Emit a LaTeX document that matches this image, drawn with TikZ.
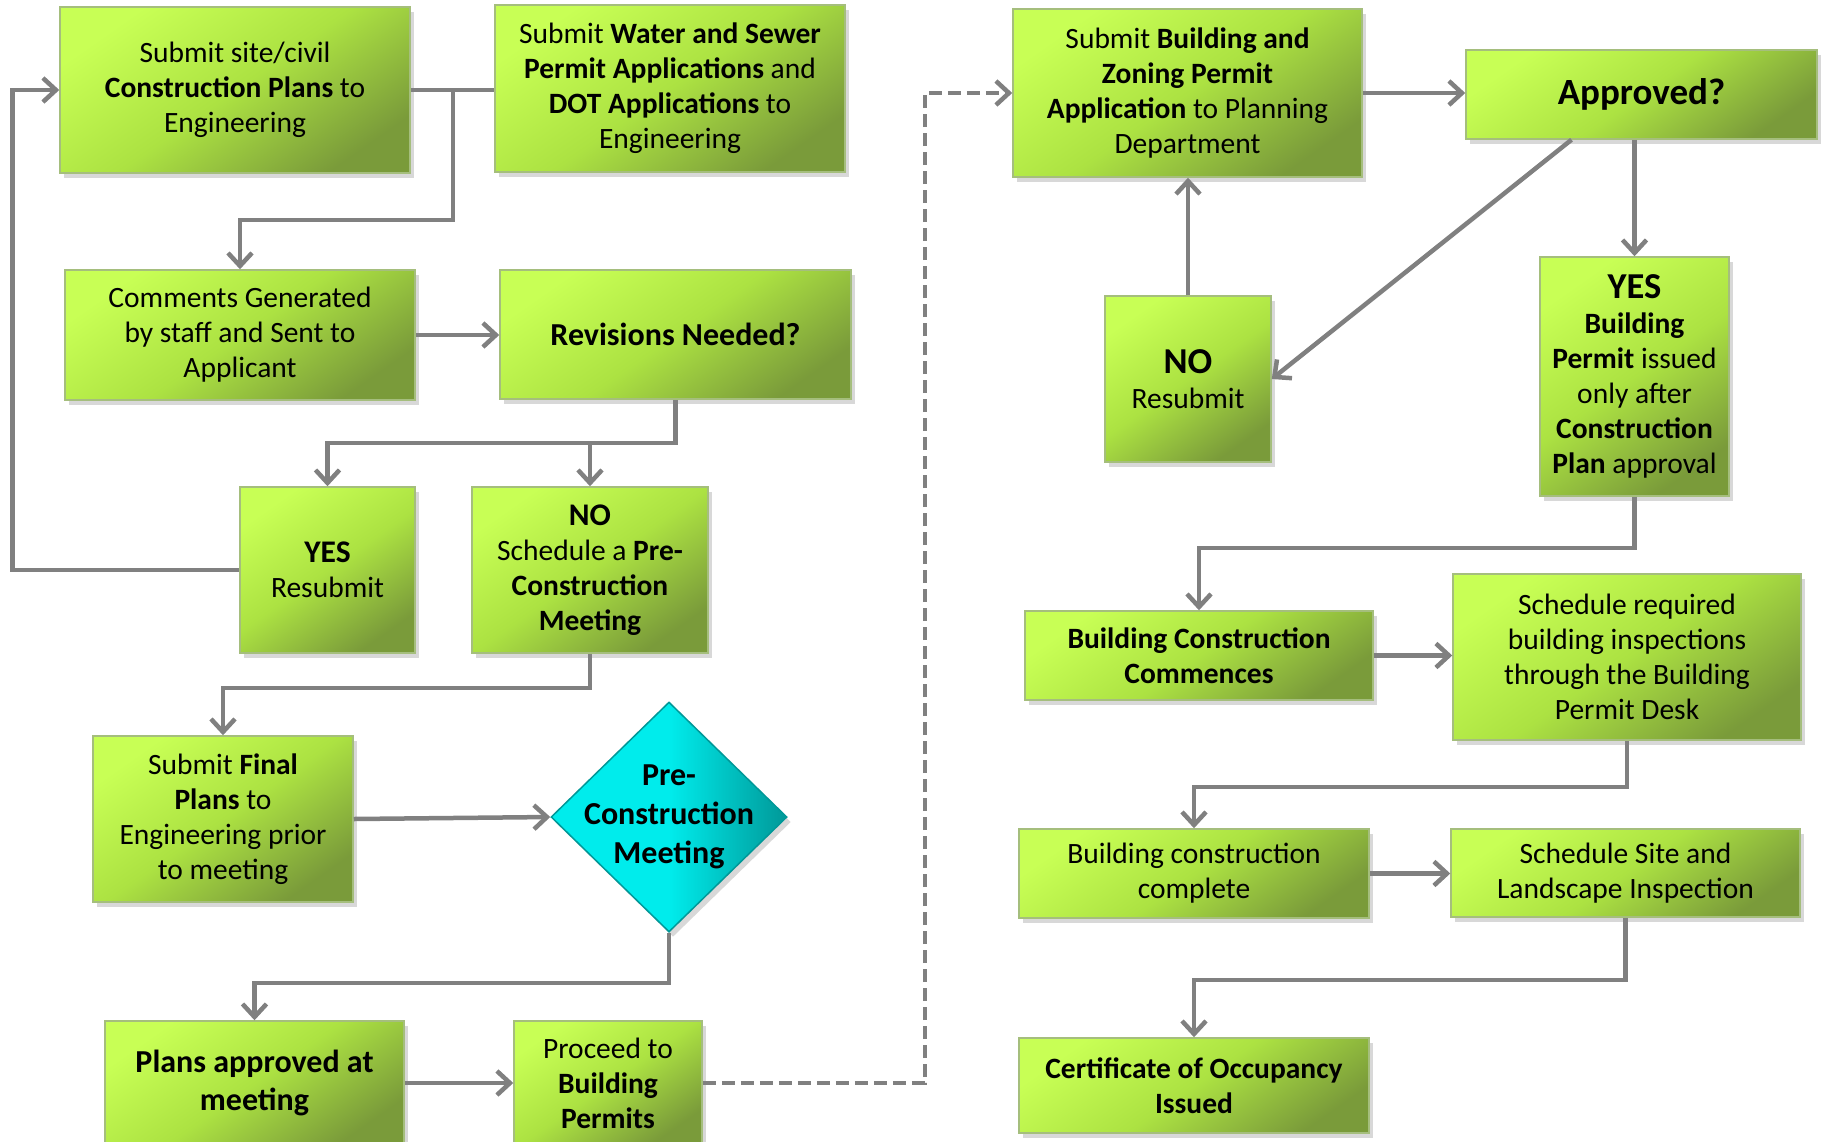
\documentclass[tikz,border=0pt]{standalone}
\usepackage{fontspec}
\setmainfont{Carlito}
\usetikzlibrary{arrows.meta,shapes.geometric,shadows,calc}

\definecolor{boxlight}{RGB}{200,255,85}
\definecolor{boxmid}{RGB}{172,226,66}
\definecolor{boxdark}{RGB}{122,155,58}
\definecolor{boxedge}{RGB}{165,190,125}
\definecolor{teallight}{RGB}{0,236,236}
\definecolor{tealdark}{RGB}{0,152,152}
\definecolor{linegray}{RGB}{128,128,128}

\tikzset{
  stepbox/.style={draw=boxedge, line width=1.5pt,
    top color=boxlight, bottom color=boxdark, middle color=boxmid, shading angle=35,
    drop shadow={shadow xshift=4pt, shadow yshift=-5pt, opacity=0.3},
    align=center, inner sep=0pt, font=\fontsize{29.5}{35}\selectfont},
  wh/.style 2 args={minimum width=#1pt, minimum height=#2pt},
  meetbox/.style={diamond, draw=tealdark, line width=1.5pt,
    left color=teallight, right color=tealdark, middle color=teallight,
    drop shadow={shadow xshift=4pt, shadow yshift=-5pt, opacity=0.3},
    inner sep=0pt},
  link/.style={draw=linegray, line width=4.5pt},
  flow/.style={link, -{Straight Barb[length=13pt,width=24pt]}},
  dashflow/.style={draw=linegray, line width=4.5pt, dash pattern=on 13pt off 6pt,
    -{Straight Barb[length=13pt,width=24pt]}},
}
\newcommand{\answer}[1]{{\fontsize{31.5}{37}\selectfont\textbf{#1}}}

\begin{document}
\begin{tikzpicture}[x=1pt, y=-1pt]
\fill[white] (0,0) rectangle (1822,1141);
\clip (0,0) rectangle (1822,1141);

% engineering side
\node[stepbox, wh={350}{166}] (civil) at (235,90) {Submit site/civil\\\textbf{Construction Plans} to\\Engineering};
\node[stepbox, wh={350}{167}] (water) at (670,88.5) {Submit \textbf{Water and Sewer}\\\textbf{Permit Applications} and\\\textbf{DOT Applications} to\\Engineering};
\node[stepbox, wh={350}{130}] (comments) at (240,335) {Comments Generated\\by staff and Sent to\\Applicant};
\node[stepbox, wh={351}{129}, font=\fontsize{32}{38}\selectfont\bfseries] (revis) at (675.5,334.5) {Revisions Needed?};
\node[stepbox, wh={175}{166}] (yes1) at (327.5,570) {\answer{YES}\\Resubmit};
\node[stepbox, wh={236}{166}] (no1) at (590,570) {\answer{NO}\\Schedule a \textbf{Pre-}\\\textbf{Construction}\\\textbf{Meeting}};
\node[stepbox, wh={260}{166}] (final) at (223,819) {Submit \textbf{Final}\\\textbf{Plans} to\\Engineering prior\\to meeting};
\node[meetbox, wh={236}{230},
  label={[align=center, font=\fontsize{32}{39}\selectfont\bfseries]center:Pre-\\Construction\\Meeting}] (pcm) at (669,817) {};
\node[stepbox, wh={299}{124}, font=\fontsize{32}{38}\selectfont\bfseries] (planok) at (254.5,1083) {Plans approved at\\meeting};
\node[stepbox, wh={188}{124}] (proceed) at (608,1083) {Proceed to\\\textbf{Building}\\\textbf{Permits}};

% planning side
\node[stepbox, wh={349}{168}] (zoning) at (1187.5,93) {Submit \textbf{Building and}\\\textbf{Zoning Permit}\\\textbf{Application} to Planning\\Department};
\node[stepbox, wh={351}{89}, font=\fontsize{37}{42}\selectfont\bfseries] (approved) at (1641.5,94.5) {Approved?};
\node[stepbox, wh={166}{166}] (no2) at (1188,379) {{\fontsize{36.5}{42}\selectfont\textbf{NO}}\\Resubmit};
\node[stepbox, wh={189}{239}] (yes2) at (1634.5,376.5) {{\fontsize{36.5}{41}\selectfont\textbf{YES}}\\\textbf{Building}\\\textbf{Permit} issued\\only after\\\textbf{Construction}\\\textbf{Plan} approval};
\node[stepbox, wh={348}{89}] (bcc) at (1199,655.5) {\textbf{Building Construction}\\\textbf{Commences}};
\node[stepbox, wh={348}{166}] (sched) at (1627,657) {Schedule required\\building inspections\\through the Building\\Permit Desk};
\node[stepbox, wh={350}{89}] (bcdone) at (1194,873.5) {Building construction\\complete};
\node[stepbox, wh={349}{88}] (site) at (1625.5,873) {Schedule Site and\\Landscape Inspection};
\node[stepbox, wh={350}{95}] (cert) at (1194,1085.5) {\textbf{Certificate of Occupancy}\\\textbf{Issued}};

% connectors
\draw[link] (civil.east) -- (civil.east -| water.west);
\draw[flow] ($(civil.east)+(42,0)$) -- ++(0,130) -| (comments.north);
\draw[flow] (yes1.west) -- ++(-227,0) |- (civil.west);
\draw[flow] (comments.east) -- (comments.east -| revis.west);
\draw[flow] (revis.south) -- ++(0,43) -| (yes1.north);
\draw[flow] ($(revis.south)+(0,43)$) -| (no1.north);
\draw[flow] (no1.south) -- ++(0,34) -| (final.north);
\draw[flow] (final.east) -- (pcm.west);
\draw[flow] (pcm.south) -- ++(0,50) -| (planok.north);
\draw[flow] (planok.east) -- (planok.east -| proceed.west);
\draw[dashflow] (proceed.east) -- ++(222,0) |- (zoning.west);
\draw[flow] (zoning.east) -- (zoning.east -| approved.west);
\draw[flow] ([xshift=-70pt]approved.south) -- (no2.east);
\draw[flow] (approved.south -| yes2.north) -- (yes2.north);
\draw[flow] (no2.north) -- (no2.north |- zoning.south);
\draw[flow] (yes2.south) -- ++(0,51) -| (bcc.north);
\draw[flow] (bcc.east) -- (bcc.east -| sched.west);
\draw[flow] (sched.south) -- ++(0,46) -| (bcdone.north);
\draw[flow] (bcdone.east) -- (bcdone.east -| site.west);
\draw[flow] (site.south) -- ++(0,62) -| (cert.north);
\end{tikzpicture}
\end{document}
